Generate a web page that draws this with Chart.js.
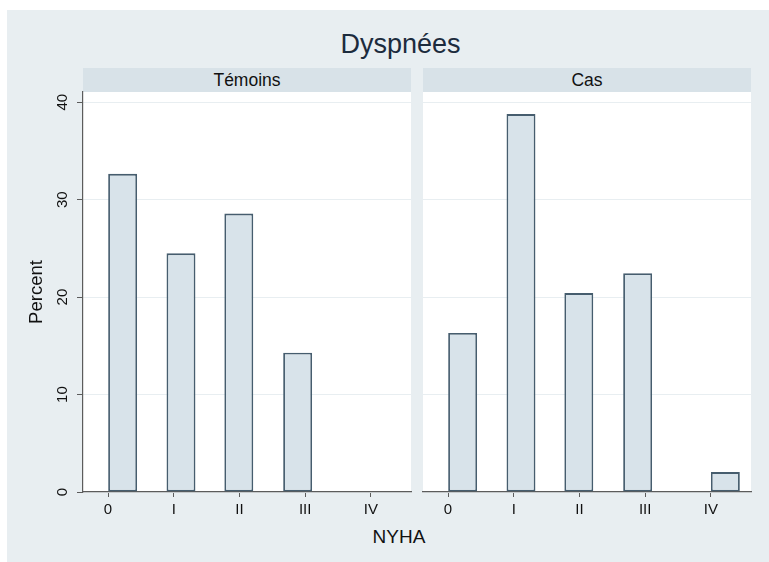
<!DOCTYPE html>
<html>
<head>
<meta charset="utf-8">
<script src="https://cdn.jsdelivr.net/npm/chart.js@4"></script>
<style>
  html, body { margin: 0; padding: 0; background: #fff; overflow: hidden; }
  body { width: 769px; height: 562px; position: relative; font-family: "Liberation Sans", Arial, sans-serif; }
  #frame { position: absolute; left: 7px; top: 10px; right: 0; bottom: 0; background: #e8eef1; }
  .txt { position: absolute; white-space: nowrap; text-align: center; }
  #title { left: 300px; width: 201px; top: 31px; font-size: 27px; line-height: 27px; color: #1c2b3d; }
  .strip { position: absolute; top: 68px; height: 24px; line-height: 24px; font-size: 17.5px;
           text-align: center; background: #d8e2e8; color: #111; white-space: nowrap; }
  #xtitle { left: 349px; width: 100px; top: 527px; font-size: 19px; line-height: 19px; color: #111; }
  canvas { position: absolute; top: 0; }
</style>
</head>
<body>
<div id="frame"></div>
<div id="title" class="txt">Dyspnées</div>
<div class="strip" id="strip0" style="left:83px;width:328px"></div>
<div class="strip" id="strip1" style="left:423px;width:328px"></div>
<div id="xtitle" class="txt">NYHA</div>
<canvas id="panel0" width="415" height="562" style="left:0"></canvas>
<canvas id="panel1" width="354" height="562" style="left:415px"></canvas>
<script>
// Groups shown as the two panels
const groups = ['Témoins', 'Cas'];
// NYHA class labels for x ticks 0..4
const nyhaLabels = ['0', 'I', 'II', 'III', 'IV'];
// Histogram bin midpoints on the NYHA scale
const binMid = [0.222, 1.11, 1.99, 2.885, 4.22];
// Percent of patients per bin
const temoinsPct = [32.65, 24.49, 28.57, 14.29, 0];
const casPct = [16.33, 38.78, 20.41, 22.45, 2.04];
// Y axis tick values
const yTicks = [0, 10, 20, 30, 40];

const FONT = "'Liberation Sans', Arial, sans-serif";
Chart.defaults.font.family = FONT;

document.getElementById('strip0').textContent = groups[0];
document.getElementById('strip1').textContent = groups[1];

// White plot region behind the bars
const plotBg = {
  id: 'plotBg',
  beforeDraw(chart) {
    const { ctx, chartArea: a } = chart;
    ctx.save();
    ctx.fillStyle = '#ffffff';
    ctx.fillRect(a.left, a.top, a.right - a.left, a.bottom - a.top);
    ctx.restore();
  }
};

// Vertical (rotated) y tick labels, placed with the y scale
const yLabels = {
  id: 'yLabels',
  afterDraw(chart, args, opts) {
    if (!opts.show) return;
    const s = chart.scales.y;
    const ctx = chart.ctx;
    ctx.save();
    ctx.fillStyle = '#111';
    ctx.font = '15px ' + FONT;
    ctx.textAlign = 'center';
    ctx.textBaseline = 'middle';
    yTicks.forEach(v => {
      const y = s.getPixelForValue(v);
      ctx.save();
      ctx.translate(s.right - 20.5, y);
      ctx.rotate(-Math.PI / 2);
      ctx.fillText(String(v), 0, 0);
      ctx.restore();
    });
    ctx.restore();
  }
};

function makePanel(id, values, showY) {
  return new Chart(document.getElementById(id), {
    type: 'bar',
    data: {
      datasets: [{
        data: binMid.map((x, i) => ({ x: x, y: values[i] })),
        backgroundColor: '#d8e3ea',
        borderColor: '#465d6e',
        borderWidth: 1.8,
        borderSkipped: false,
        barPercentage: 0.5,
        categoryPercentage: 1
      }]
    },
    options: {
      responsive: false,
      animation: false,
      devicePixelRatio: 1,
      layout: { padding: { left: showY ? 0 : 8, right: showY ? 4 : 18, top: 92, bottom: 0 } },
      plugins: {
        legend: { display: false },
        tooltip: { enabled: false },
        title: { display: false },
        yLabels: { show: showY }
      },
      scales: {
        x: {
          type: 'linear',
          offset: false,
          min: -0.381,
          max: 4.61,
          afterBuildTicks(s) { s.ticks = nyhaLabels.map((_, i) => ({ value: i })); },
          ticks: {
            callback: v => nyhaLabels[v],
            font: { size: 15 },
            color: '#111',
            padding: 4,
            maxRotation: 0,
            autoSkip: false
          },
          grid: { offset: false, drawOnChartArea: false, drawTicks: true, tickLength: 5, tickColor: '#5c5c5c', tickWidth: 1 },
          border: { color: '#5c5c5c', width: 1.2 },
          afterFit(s) { s.height = 70; }
        },
        y: {
          min: 0,
          max: 41.05,
          afterBuildTicks(s) { s.ticks = yTicks.map(v => ({ value: v })); },
          ticks: { display: false },
          grid: { color: '#e8eef1', drawTicks: showY, tickLength: 6, tickColor: '#5c5c5c', tickWidth: 1 },
          border: { display: showY, color: '#5c5c5c', width: 1.2 },
          title: {
            display: showY,
            text: 'Percent',
            color: '#111',
            font: { size: 18.5 },
            padding: { top: 25.5, bottom: 0 }
          },
          afterFit(s) { s.width = showY ? 83 : 0; }
        }
      }
    },
    plugins: [plotBg, yLabels]
  });
}

makePanel('panel0', temoinsPct, true);
makePanel('panel1', casPct, false);
</script>
</body>
</html>
